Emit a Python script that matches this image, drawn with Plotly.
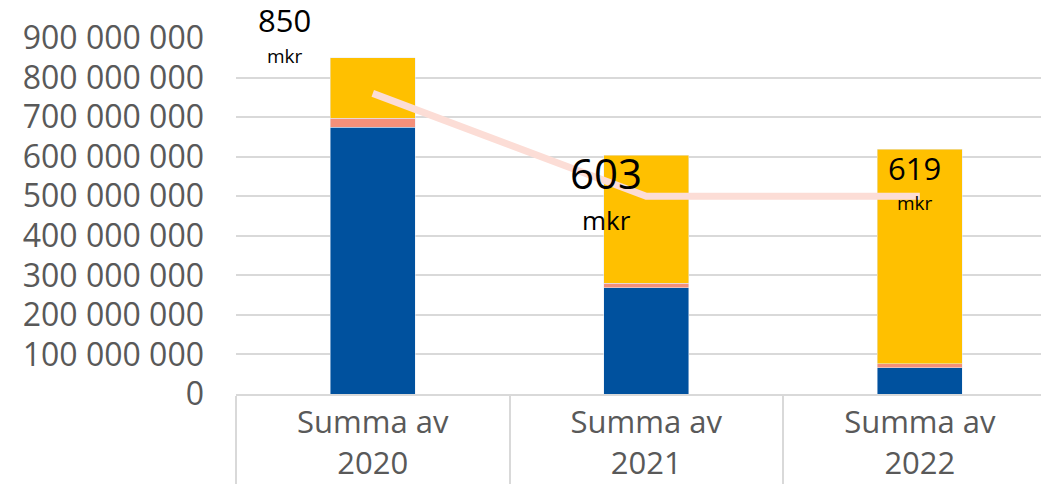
import plotly.graph_objects as go

# data
categories = ["Summa av<br>2020", "Summa av<br>2021", "Summa av<br>2022"]
blue_vals = [674_000_000, 268_000_000, 66_000_000]
salmon_vals = [23_000_000, 12_000_000, 10_000_000]
gold_vals = [153_000_000, 323_000_000, 543_000_000]
line_vals = [760_000_000, 500_000_000, 500_000_000]
label_nums = ["850", "603", "619"]
label_unit = "mkr"

totals = [b + s + g for b, s, g in zip(blue_vals, salmon_vals, gold_vals)]

fig = go.Figure()
fig.add_bar(x=categories, y=blue_vals, marker_color="#00519E", width=0.31)
fig.add_bar(x=categories, y=salmon_vals, marker_color="#F4907A", width=0.31)
fig.add_bar(x=categories, y=gold_vals, marker_color="#FFC000", width=0.31)
fig.add_scatter(x=categories, y=line_vals, mode="lines",
                line=dict(color="#FCDDD6", width=7))

# label styling per bar: (xshift, yshift num, yshift unit, num size, unit size)
label_style = [
    (-88, 38, 2, 31, 19),
    (-40, -17, -65, 42, 26),
    (-5, -19, -54, 31, 19),
]
for cat, tot, num, st in zip(categories, totals, label_nums, label_style):
    xs, ys_n, ys_u, fs_n, fs_u = st
    fig.add_annotation(x=cat, y=tot, text=num, showarrow=False,
                       xshift=xs, yshift=ys_n,
                       font=dict(size=fs_n, color="black", family="Open Sans"))
    fig.add_annotation(x=cat, y=tot, text=label_unit, showarrow=False,
                       xshift=xs, yshift=ys_u,
                       font=dict(size=fs_u, color="black", family="Open Sans"))

fig.update_layout(
    barmode="stack",
    width=1041, height=484,
    margin=dict(l=236, r=0, t=38, b=90, autoexpand=False),
    showlegend=False,
    plot_bgcolor="white", paper_bgcolor="white",
    separators=", ",
    font=dict(family="Open Sans", color="#595959", size=30),
)
fig.update_yaxes(range=[0, 900_000_000], dtick=100_000_000, tickformat=",d",
                 showgrid=True, gridcolor="#D9D9D9", gridwidth=2,
                 zeroline=False, ticklabelstandoff=31,
                 tickfont=dict(size=32))
fig.update_xaxes(range=[-0.5, 2.443], showline=True, linecolor="#D9D9D9",
                 linewidth=2, ticks="outside", tickson="boundaries",
                 ticklen=100, tickcolor="#D9D9D9", tickwidth=2,
                 tickfont=dict(size=31))

# drop the default body margin so the figure fills the window
fig.write_html("out.html", config={"displayModeBar": False},
               post_script="document.body.style.margin='0';"
                           "document.body.style.overflow='hidden';")
